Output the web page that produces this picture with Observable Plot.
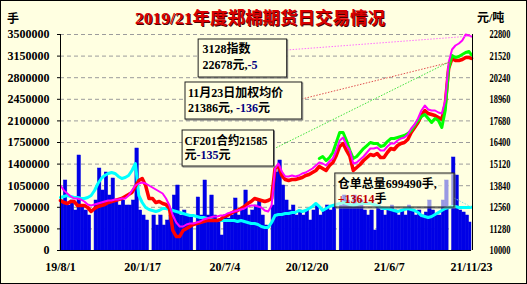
<!DOCTYPE html>
<html><head><meta charset="utf-8">
<script src="https://cdn.jsdelivr.net/npm/d3@7"></script>
<script src="https://cdn.jsdelivr.net/npm/@observablehq/plot@0.6"></script>
<style>
html,body{margin:0;padding:0;background:#FFFFE1;}
#chart svg{display:block;}
</style></head><body><div id="chart"></div>
<script>
// weekly sample dates (last entry = final trading day shown)
const weekDates = [
"2019-08-01","2019-08-08","2019-08-15","2019-08-22","2019-08-29","2019-09-05","2019-09-12","2019-09-19","2019-09-26","2019-10-03",
"2019-10-10","2019-10-17","2019-10-24","2019-10-31","2019-11-07","2019-11-14","2019-11-21","2019-11-28","2019-12-05","2019-12-12",
"2019-12-19","2019-12-26","2020-01-02","2020-01-09","2020-01-16","2020-01-23","2020-01-30","2020-02-06","2020-02-13","2020-02-20",
"2020-02-27","2020-03-05","2020-03-12","2020-03-19","2020-03-26","2020-04-02","2020-04-09","2020-04-16","2020-04-23","2020-04-30",
"2020-05-07","2020-05-14","2020-05-21","2020-05-28","2020-06-04","2020-06-11","2020-06-18","2020-06-25","2020-07-02","2020-07-09",
"2020-07-16","2020-07-23","2020-07-30","2020-08-06","2020-08-13","2020-08-20","2020-08-27","2020-09-03","2020-09-10","2020-09-17",
"2020-09-24","2020-10-01","2020-10-08","2020-10-15","2020-10-22","2020-10-29","2020-11-05","2020-11-12","2020-11-19","2020-11-26",
"2020-12-03","2020-12-10","2020-12-17","2020-12-24","2020-12-31","2021-01-07","2021-01-14","2021-01-21","2021-01-28","2021-02-04",
"2021-02-11","2021-02-18","2021-02-25","2021-03-04","2021-03-11","2021-03-18","2021-03-25","2021-04-01","2021-04-08","2021-04-15",
"2021-04-22","2021-04-29","2021-05-06","2021-05-13","2021-05-20","2021-05-27","2021-06-03","2021-06-10","2021-06-17","2021-06-24",
"2021-07-01","2021-07-08","2021-07-15","2021-07-22","2021-07-29","2021-08-05","2021-08-12","2021-08-19","2021-08-26","2021-09-02",
"2021-09-09","2021-09-16","2021-09-23","2021-09-30","2021-10-07","2021-10-14","2021-10-21","2021-10-28","2021-11-04","2021-11-11",
"2021-11-18","2021-11-23"];

// 成交量 (手), left axis — one bar per week
const volume = [
810200,1134300,729200,810200,648200,1539400,729200,648200,567100,0,
810200,1328700,972200,1263900,891200,1166700,810200,729200,810200,729200,
729200,810200,1652800,648200,567100,486100,0,567100,405100,567100,
405100,486100,567100,891200,1053300,567100,648200,567100,567100,0,
858800,567100,1134300,567100,891200,567100,486100,243100,567100,518500,
567100,842600,567100,648200,972200,567100,648200,729200,810200,567100,
405100,0,729200,1263900,1458400,1053300,810200,648200,729200,567100,
648200,567100,648200,486100,648200,729200,567100,648200,729200,648200,
729200,0,729200,891200,810200,729200,891200,729200,810200,648200,
567100,648200,324100,729200,648200,567100,648200,729200,648200,567100,
648200,567100,729200,648200,567100,648200,567100,615800,810200,648200,
567100,567100,810200,1134300,0,1507000,1215300,648200,615800,567100,
453700];

// 总量 (手), left axis — cyan line
const totalQty = [
858800,875000,891200,875000,858800,858800,842600,842600,858800,891200,
972200,1085700,1166700,1215300,1247700,1263900,1247700,1199100,1166700,1182900,
1215300,1296300,1409700,891200,777800,696800,664400,648200,632000,648200,
680600,680600,664400,648200,632000,615800,599500,583300,567100,567100,
550900,534700,534700,518500,502300,486100,486100,486100,486100,486100,
486100,486100,469900,486100,469900,453700,437500,437500,421300,388900,
372700,372700,453700,567100,583300,583300,599500,599500,615800,615800,
648200,632000,648200,680600,713000,761600,713000,648200,680600,713000,
729200,745400,761600,777800,761600,745400,729200,745400,761600,761600,
761600,761600,745400,729200,696800,680600,680600,664400,648200,632000,
648200,664400,680600,664400,648200,615800,567100,550900,534700,550900,
583300,615800,648200,680600,696800,713000,713000,696800,696800,696800,
696800,699490];

// 加权均价 (元/吨), right axis — red
const avgPrice = [
12963,12844,12785,12904,12904,12667,12667,12667,12548,12311,
12489,12607,12667,12726,12844,12904,12963,13022,13082,13200,
13319,13437,13793,14148,14267,13852,13082,13082,12844,12904,
12785,12726,12489,11185,10830,10830,11185,11304,11422,11541,
11600,11659,11719,11778,11778,11778,11778,11837,12015,12074,
12193,12311,12370,12489,12607,12785,12904,13082,13022,12963,
12904,12963,13082,14859,15037,14445,14207,14148,14207,14207,
14267,14326,14445,14504,14622,14741,14978,14859,14741,15037,
15215,15630,16163,16341,15926,15570,14741,14919,15096,15333,
15511,15689,15630,15748,15511,15511,15807,16044,15985,16222,
16341,16400,16578,16993,17289,17585,18000,18296,18119,18059,
18000,17882,17763,18652,20785,21378,21259,21259,21319,21437,
21437,21386];

// 3128指数 (元/吨), right axis — magenta
const indexPrice = [
13852,13556,13378,13200,13082,13082,13022,12904,12726,12667,
12726,12785,12844,12904,12963,12963,13022,13022,13082,13082,
13259,13556,13852,13970,14030,13970,13852,13733,13615,13496,
13378,13082,12667,12074,11659,11422,11422,11541,11600,11600,
11659,11719,11837,11896,11956,12015,12015,12074,12074,12193,
12252,12311,12370,12430,12489,12607,12667,12667,12607,12548,
12370,12311,12667,14859,15156,14682,14385,14385,14445,14385,
14445,14563,14622,14741,14859,15037,15215,15156,15037,15274,
15452,15926,16519,16696,16222,15926,15156,15215,15393,15570,
15807,16044,16044,16104,15926,15926,16163,16341,16341,16519,
16637,16696,16874,17230,17467,17822,18296,18593,18356,18296,
18296,18178,18119,18889,21141,21911,22148,22267,22445,22800,
22741,22678];

// CF201合约 (元/吨), right axis — green, from its first week
const cf201Start = "2021-01-14";
const cf201Price = [
15452,15570,15333,15511,15807,16400,16993,16993,16519,15926,
15452,15570,15807,16044,16222,16400,16341,16341,16163,16222,
16459,16637,16637,16696,16756,16815,16933,17111,17407,17704,
17941,18059,17822,17585,17822,17704,17289,18296,20785,21556,
21437,21496,21615,21733,21793,21585];

const yTicks = [0,350000,700000,1050000,1400000,1750000,2100000,2450000,2800000,3150000,3500000];
const rightLabels = ["10000","11280","12560","13840","15120","16400","17680","18960","20240","21520","22800"];
const xTickDates = ["2019-08-01","2020-01-17","2020-07-04","2020-12-20","2021-06-07","2021-11-23"];
const xTickLabels = ["19/8/1","20/1/17","20/7/4","20/12/20","21/6/7","21/11/23"];

const FONT = '"Liberation Serif","Noto Sans CJK SC",serif';
const parse = d3.utcParse("%Y-%m-%d");
const fmt = d3.utcFormat("%Y-%m-%d");
const D = weekDates.map(parse);
const toLeft = p => (p - 10000) * 3500000 / 12800;

const bars = volume.map((v, i) => ({x1: D[i], x2: D[i + 1], v}));
const qtyData = totalQty.map((v, i) => ({d: D[i], v}));
const redData = avgPrice.map((p, i) => ({d: D[i], v: toLeft(p)}));
const magData = indexPrice.map((p, i) => ({d: D[i], v: toLeft(p)}));
const cfIdx = weekDates.indexOf(cf201Start);
const cfData = cf201Price.map((p, i) => ({d: D[i + cfIdx], v: toLeft(p)}));

const chart = Plot.plot({
  width: 527, height: 284,
  marginLeft: 60, marginRight: 56, marginTop: 34, marginBottom: 34,
  style: {background: "#FFFFE1", fontFamily: FONT, fontWeight: "bold", fontSize: "12px", color: "#000", overflow: "visible"},
  x: {type: "utc", domain: [D[0], D[D.length - 1]], label: null},
  y: {domain: [0, 3500000], label: null},
  marks: [
    Plot.ruleY(yTicks.slice(1), {stroke: "#9c9c9c", strokeWidth: 1, strokeDasharray: "4,3"}),
    Plot.rectY(bars, {x1: "x1", x2: "x2", y: "v", fill: "#0000E6", stroke: "#0000E6", strokeWidth: 0.5}),
    Plot.line(qtyData, {x: "d", y: "v", stroke: "#00FFFF", strokeWidth: 3}),
    Plot.line(redData, {x: "d", y: "v", stroke: "#FF0000", strokeWidth: 3.5}),
    Plot.line(cfData, {x: "d", y: "v", stroke: "#00FF00", strokeWidth: 3}),
    Plot.line(magData, {x: "d", y: "v", stroke: "#FF00FF", strokeWidth: 2}),
    Plot.ruleX([D[0]], {stroke: "#000", strokeWidth: 1}),
    Plot.ruleX([D[D.length - 1]], {stroke: "#000", strokeWidth: 1, dx: 1}),
    Plot.ruleY([0], {stroke: "#000", strokeWidth: 1}),
    Plot.axisY({anchor: "left", ticks: yTicks, tickFormat: d => String(d), tickSize: 3, tickPadding: 8, label: null}),
    Plot.axisY({anchor: "right", ticks: yTicks, tickFormat: d => rightLabels[yTicks.indexOf(d)], tickSize: 0, tickPadding: 18, label: null}),
    Plot.axisX({ticks: xTickDates.map(parse), tickFormat: d => xTickLabels[xTickDates.indexOf(fmt(d))], tickSize: 0, tickPadding: 12, label: null})
  ]
});
document.getElementById("chart").appendChild(chart);

const svg = d3.select(chart);
// condensed right-axis labels
svg.selectAll("text").each(function() {
  if (rightLabels.includes(this.textContent)) {
    d3.select(this).attr("textLength", 21).attr("lengthAdjust", "spacingAndGlyphs");
  }
});

// callouts, positioned in data coordinates
const sx = chart.scale("x"), sy = chart.scale("y");
const PX = s => sx.apply(parse(s)), PY = v => sy.apply(v);
const notes = [
  {x1: "2020-05-11", x2: "2020-11-09", top: 3419000, bottom: 2803300, tx: "2020-05-20",
   rows: [[["3128指数", "#000"]], [["22678元,", "#000"], ["-5", "#000080"]]], ly: [3257000, 2997700], fit: [null, null],
   from: ["2020-11-09", 3240800], to: ["2021-11-23", toLeft(22678)], lc: "#FF70FF", op: 1},
  {x1: "2020-04-14", x2: "2020-12-10", top: 2722300, bottom: 2122700, tx: "2020-04-20",
   rows: [[["11月23日加权均价", "#000"]], [["21386元, ", "#000"], ["-136", "#000080"], ["元", "#000"]]], ly: [2544000, 2301000], fit: [null, null],
   from: ["2020-12-10", 2446800], to: ["2021-10-13", 3046400], lc: "#E05050", op: 1},
  {x1: "2020-04-08", x2: "2020-10-13", top: 1944500, bottom: 1361100, tx: "2020-04-13",
   rows: [[["CF201合约21585", "#000"]], [["元", "#000"], ["-135", "#000080"], ["元", "#000"]]], ly: [1766200, 1539400], fit: [83, null],
   from: ["2020-10-13", 1636600], to: ["2021-10-09", 3046400], lc: "#40E040", op: 1},
  {x1: "2021-02-16", x2: "2021-10-19", top: 1247700, bottom: 696800, tx: "2021-02-22",
   rows: [[["仓单总量699490手,", "#000"]], [["+13614", "#C00000"], ["手", "#000"]]], ly: [1069500, 826400], fit: [null, null],
   from: ["2021-10-19", 842600], to: ["2021-11-23", 699490], lc: "#80E0E0", op: 0.6}
];
const g = svg.append("g").attr("font-family", FONT).attr("font-weight", "bold").attr("font-size", 12).attr("text-anchor", "start");
for (const n of notes) {
  g.append("line")
    .attr("x1", PX(n.from[0])).attr("y1", PY(n.from[1]))
    .attr("x2", PX(n.to[0])).attr("y2", PY(n.to[1]))
    .attr("stroke", n.lc).attr("stroke-width", 1).attr("stroke-dasharray", "1.5,1.5");
  const x1 = PX(n.x1), x2 = PX(n.x2), y1 = PY(n.top), y2 = PY(n.bottom);
  g.append("rect").attr("x", x1 + 1).attr("y", y1 + 1).attr("width", x2 - x1).attr("height", y2 - y1)
    .attr("fill", "none").attr("stroke", "#777").attr("stroke-width", 1);
  g.append("rect").attr("x", x1).attr("y", y1).attr("width", x2 - x1).attr("height", y2 - y1)
    .attr("fill", "#FFFFE1").attr("fill-opacity", n.op).attr("stroke", "#222").attr("stroke-width", 1);
  n.rows.forEach((segs, k) => {
    const t = g.append("text").attr("x", PX(n.tx)).attr("y", PY(n.ly[k]))
      .attr("text-anchor", "start").attr("dominant-baseline", "central");
    if (n.fit[k]) t.attr("textLength", n.fit[k]).attr("lengthAdjust", "spacingAndGlyphs");
    segs.forEach(([s, c]) => t.append("tspan").attr("fill", c).text(s));
  });
}

// title and units
const tg = svg.append("g").attr("font-family", FONT).attr("font-weight", "bold");
tg.append("text").attr("x", 261).attr("y", 18.5).attr("text-anchor", "middle").attr("dominant-baseline", "central")
  .attr("font-size", 17.5).attr("fill", "#4a0000").text("2019/21年度郑棉期货日交易情况");
tg.append("text").attr("x", 260).attr("y", 17.5).attr("text-anchor", "middle").attr("dominant-baseline", "central")
  .attr("font-size", 17.5).attr("fill", "#D80000").text("2019/21年度郑棉期货日交易情况");
tg.append("text").attr("x", 13).attr("y", 19).attr("text-anchor", "middle").attr("dominant-baseline", "central")
  .attr("font-size", 12).attr("fill", "#000").text("手");
tg.append("text").attr("x", 477).attr("y", 18).attr("text-anchor", "start").attr("dominant-baseline", "central")
  .attr("font-size", 12).attr("fill", "#000").text("元/吨");
svg.append("rect").attr("x", 0.5).attr("y", 0.5).attr("width", 526).attr("height", 283)
  .attr("fill", "none").attr("stroke", "#000").attr("stroke-width", 1);
</script>
</body></html>
